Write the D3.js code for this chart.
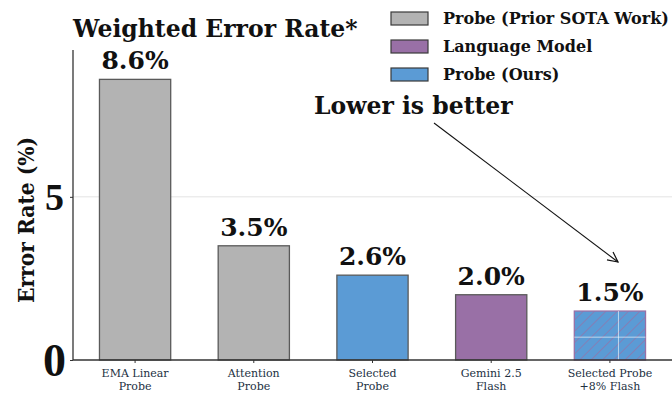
<!DOCTYPE html>
<html><head><meta charset="utf-8">
<script src="https://cdn.jsdelivr.net/npm/d3@7"></script>
<style>body{margin:0;background:#fff}svg{display:block}</style>
</head><body>
<svg id="c" width="672" height="393"></svg>
<script>
const categories = ["EMA Linear\nProbe", "Attention\nProbe", "Selected\nProbe", "Gemini 2.5\nFlash", "Selected Probe\n+8% Flash"];
const values = [8.6, 3.5, 2.6, 2.0, 1.5];
const valueLabels = ["8.6%", "3.5%", "2.6%", "2.0%", "1.5%"];
const groups = ["prior", "prior", "ours", "lm", "mix"];
const legendLabels = ["Probe (Prior SOTA Work)", "Language Model", "Probe (Ours)"];
const yTicks = [0, 5];

(function(){
const F = "'DejaVu Serif', serif";
const FC = "'DejaVu Serif Condensed', 'DejaVu Serif', serif";
const FN = "'Liberation Serif', serif";
const colors = {prior: "#b3b3b3", lm: "#9970a6", ours: "#5b9bd5"};
const svg = d3.select("#c");
const mL = 73, mR = 672, mT = 50, mB = 360;

const x = d3.scaleBand().domain(categories).range([mL, mR]).paddingInner(0.4).paddingOuter(0.223);
const y = d3.scaleLinear().domain([0, 9.5]).range([mB, mT]);

const defs = svg.append("defs");
const pat = defs.append("pattern").attr("id", "hatch").attr("patternUnits", "userSpaceOnUse")
  .attr("width", 8).attr("height", 8).attr("patternTransform", "rotate(45)");
pat.append("rect").attr("width", 8).attr("height", 8).attr("fill", colors.ours);
pat.append("line").attr("x1", 0).attr("y1", 0).attr("x2", 0).attr("y2", 8)
  .attr("stroke", colors.lm).attr("stroke-width", 1.3);

svg.append("g").selectAll("line").data(yTicks.filter(d => d > 0)).join("line")
  .attr("x1", mL).attr("x2", mR).attr("y1", d => y(d)).attr("y2", d => y(d))
  .attr("stroke", "#e3e3e3").attr("stroke-width", 1);

svg.append("g").selectAll("rect").data(categories).join("rect")
  .attr("x", d => x(d)).attr("width", x.bandwidth())
  .attr("y", (d, i) => y(values[i])).attr("height", (d, i) => y(0) - y(values[i]))
  .attr("fill", (d, i) => groups[i] === "mix" ? "url(#hatch)" : colors[groups[i]])
  .attr("stroke", (d, i) => groups[i] === "mix" ? colors.lm : "#5a5a5a")
  .attr("stroke-width", 1.3);

const lastI = 4, lc = categories[lastI];
const cx = x(lc) + x.bandwidth() * 0.62;
svg.append("line").attr("x1", cx).attr("x2", cx).attr("y1", y(values[lastI])).attr("y2", y(0))
  .attr("stroke", "#ffffff").attr("stroke-opacity", 0.6).attr("stroke-width", 1);
svg.append("line").attr("x1", x(lc)).attr("x2", x(lc) + x.bandwidth()).attr("y1", y(0.7)).attr("y2", y(0.7))
  .attr("stroke", "#ffffff").attr("stroke-opacity", 0.6).attr("stroke-width", 1);

svg.append("g").selectAll("text").data(categories).join("text")
  .attr("x", d => x(d) + x.bandwidth() / 2).attr("y", (d, i) => y(values[i]) - 10)
  .attr("text-anchor", "middle").attr("font-family", F).attr("font-weight", "bold")
  .attr("font-size", 25).attr("fill", "#111").text((d, i) => valueLabels[i]);

const yAxis = svg.append("g").attr("transform", `translate(${mL},0)`)
  .call(d3.axisLeft(y).tickValues(yTicks).tickSize(3).tickFormat(d3.format("d")));
yAxis.select(".domain").attr("stroke", "#333").attr("stroke-width", 1.3).attr("d", `M0,${mT}V${mB}`);
yAxis.selectAll(".tick line").attr("stroke", "#333");
yAxis.selectAll(".tick text").attr("font-family", FN).attr("font-weight", "bold")
  .attr("font-size", d => d === 0 ? 46 : 38).attr("fill", "#111").attr("x", d => d === 0 ? -7 : -9).attr("dy", "0.34em");

const xAxis = svg.append("g").attr("transform", `translate(0,${mB})`)
  .call(d3.axisBottom(x).tickSize(3).tickFormat(""));
xAxis.select(".domain").attr("stroke", "#333").attr("stroke-width", 1.3).attr("d", `M${mL},0H${mR}`);
xAxis.selectAll(".tick line").attr("stroke", "#333");
xAxis.selectAll(".tick").each(function(d) {
  const t = d3.select(this).append("text").attr("text-anchor", "middle")
    .attr("font-family", F).attr("font-size", 11).attr("fill", "#22303f");
  d.split("\n").forEach((s, k) => t.append("tspan").attr("x", 0).attr("y", 17 + k * 12.5).text(s));
});

svg.append("text").attr("transform", `translate(34,220) rotate(-90)`)
  .attr("text-anchor", "middle").attr("font-family", FC).attr("font-weight", "bold")
  .attr("font-size", 22.5).attr("fill", "#111").text("Error Rate (%)");

svg.append("text").attr("x", mL).attr("y", 37).attr("font-family", F).attr("font-weight", "bold")
  .attr("font-size", 23.5).attr("fill", "#111").text("Weighted Error Rate*");

const lg = svg.append("g");
const legendKeys = ["prior", "lm", "ours"];
legendLabels.forEach((l, i) => {
  const yy = 12 + i * 28;
  lg.append("rect").attr("x", 391).attr("y", yy).attr("width", 37).attr("height", 13)
    .attr("fill", colors[legendKeys[i]]).attr("stroke", "#3a3a3a").attr("stroke-width", 1.2);
  lg.append("text").attr("x", 443).attr("y", yy + 12).attr("font-family", F).attr("font-weight", 600)
    .attr("font-size", 16).attr("fill", "#111").text(l);
});

defs.append("marker").attr("id", "arr").attr("viewBox", "0 0 12 12").attr("refX", 11).attr("refY", 6)
  .attr("markerWidth", 12).attr("markerHeight", 12).attr("markerUnits", "userSpaceOnUse").attr("orient", "auto")
  .append("path").attr("d", "M1,1L11,6L1,11").attr("fill", "none").attr("stroke", "#111").attr("stroke-width", 1.2);
svg.append("text").attr("x", 314).attr("y", 114).attr("font-family", F).attr("font-weight", "bold")
  .attr("font-size", 23.5).attr("fill", "#111").text("Lower is better");
svg.append("line").attr("x1", 434).attr("y1", 123).attr("x2", 618).attr("y2", 262)
  .attr("stroke", "#111").attr("stroke-width", 1.1).attr("marker-end", "url(#arr)");
})();
</script>
</body></html>
